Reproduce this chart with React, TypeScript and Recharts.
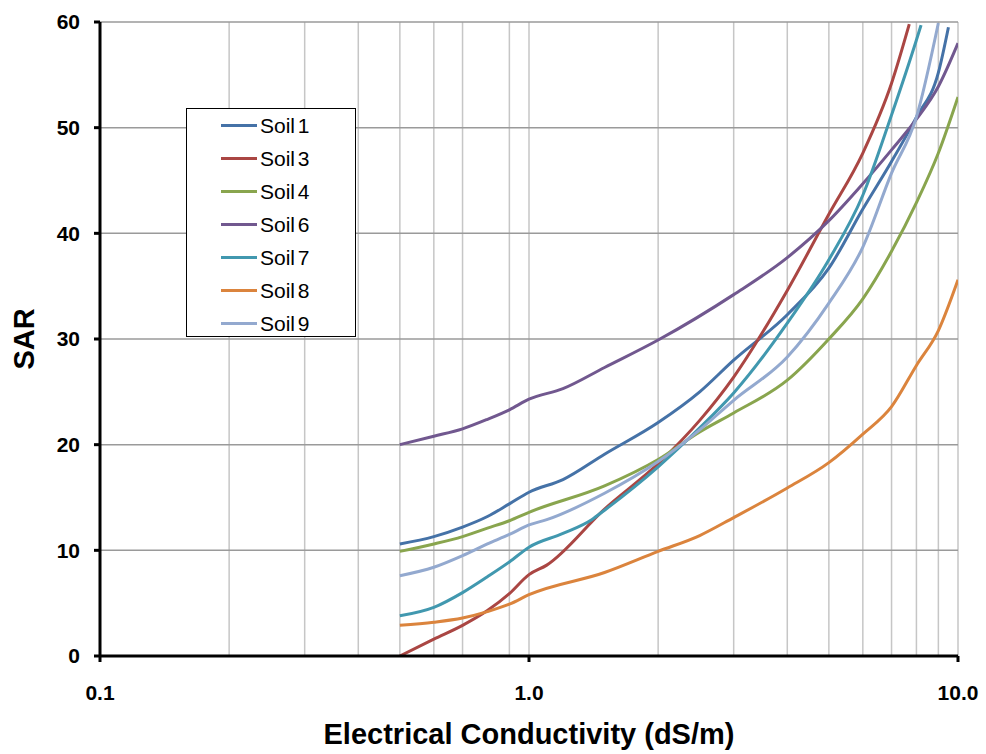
import React from 'react';
import { LineChart, Line, XAxis, YAxis, CartesianGrid, Legend } from 'recharts';

const FONT = "'Liberation Sans', Arial, Helvetica, sans-serif";

const xTicks = [0.1, 1, 10];
const xGridTicks = [0.1, 0.2, 0.3, 0.4, 0.5, 0.6, 0.7, 0.8, 0.9, 1, 2, 3, 4, 5, 6, 7, 8, 9, 10];
const yTicks = [0, 10, 20, 30, 40, 50, 60];

const ecSoil1 = [0.5, 0.6, 0.7, 0.8, 0.9, 1.0, 1.2, 1.5, 2, 2.5, 3, 4, 5, 6, 7, 8, 9, 9.5];
const sarSoil1 = [10.6, 11.3, 12.2, 13.2, 14.4, 15.5, 16.7, 19.1, 22.1, 25.0, 28.0, 32.3, 36.7, 42.3, 46.8, 51.0, 55.2, 59.5];

const ecSoil3 = [0.5, 0.6, 0.7, 0.8, 0.9, 1.0, 1.1, 1.5, 2, 2.5, 3, 4, 5, 6, 7, 7.7];
const sarSoil3 = [0, 1.6, 2.9, 4.3, 5.9, 7.7, 8.6, 13.9, 18.2, 22.3, 26.4, 34.6, 41.8, 47.6, 54.2, 59.8];

const ecSoil4 = [0.5, 0.6, 0.7, 0.8, 0.9, 1.0, 1.5, 2, 2.5, 3, 4, 5, 6, 7, 8, 9, 10];
const sarSoil4 = [9.9, 10.6, 11.3, 12.1, 12.8, 13.6, 16.1, 18.6, 21.2, 23.0, 26.1, 30.0, 33.8, 38.3, 42.9, 47.6, 52.9];

const ecSoil6 = [0.5, 0.6, 0.7, 0.8, 0.9, 1.0, 1.2, 1.5, 2, 3, 4, 5, 6, 7, 8, 9, 10];
const sarSoil6 = [20.0, 20.8, 21.5, 22.4, 23.3, 24.3, 25.3, 27.3, 29.9, 34.2, 37.7, 41.2, 44.7, 47.9, 50.8, 53.9, 58.0];

const ecSoil7 = [0.5, 0.6, 0.7, 0.8, 0.9, 1.0, 1.2, 1.4, 1.5, 2, 2.5, 3, 4, 5, 6, 7, 8, 8.2];
const sarSoil7 = [3.8, 4.6, 6.0, 7.5, 8.9, 10.3, 11.6, 12.9, 13.8, 17.9, 21.6, 24.9, 31.5, 37.5, 43.6, 51.2, 58.3, 59.7];

const ecSoil8 = [0.5, 0.6, 0.7, 0.8, 0.9, 1.0, 1.5, 2, 2.5, 3, 4, 5, 6, 7, 8, 9, 10];
const sarSoil8 = [2.9, 3.2, 3.6, 4.2, 4.9, 5.8, 7.9, 9.9, 11.4, 13.1, 15.9, 18.3, 21.0, 23.6, 27.5, 30.8, 35.6];

const ecSoil9 = [0.5, 0.6, 0.7, 0.8, 0.9, 1.0, 1.1, 1.5, 2, 2.5, 3, 4, 5, 6, 7, 8, 9];
const sarSoil9 = [7.6, 8.4, 9.5, 10.6, 11.5, 12.4, 12.9, 15.4, 18.4, 21.4, 24.2, 28.3, 33.4, 38.7, 45.7, 51.0, 59.9];

const zip = (ec: number[], sar: number[]) => ec.map((e, i) => ({ ec: e, sar: sar[i] }));

const series = [
  { name: 'Soil 1', color: '#4572A7', data: zip(ecSoil1, sarSoil1) },
  { name: 'Soil 3', color: '#AA4643', data: zip(ecSoil3, sarSoil3) },
  { name: 'Soil 4', color: '#89A54E', data: zip(ecSoil4, sarSoil4) },
  { name: 'Soil 6', color: '#71588F', data: zip(ecSoil6, sarSoil6) },
  { name: 'Soil 7', color: '#4198AF', data: zip(ecSoil7, sarSoil7) },
  { name: 'Soil 8', color: '#DB843D', data: zip(ecSoil8, sarSoil8) },
  { name: 'Soil 9', color: '#93A9CF', data: zip(ecSoil9, sarSoil9) },
];

function LegendBox(props: any) {
  const payload = props.payload || [];
  return (
    <div
      style={{
        border: '1.5px solid #000',
        background: '#fff',
        width: 170,
        height: 229,
        boxSizing: 'border-box',
        fontFamily: FONT,
      }}
    >
      {payload.map((p: any) => (
        <div key={p.value} style={{ display: 'flex', alignItems: 'center', height: 33, paddingLeft: 34 }}>
          <span style={{ display: 'inline-block', width: 36, height: 3, background: p.color }} />
          <span style={{ marginLeft: 3, fontSize: 21, wordSpacing: -3, color: '#000', lineHeight: '33px' }}>
            {p.value}
          </span>
        </div>
      ))}
    </div>
  );
}

const tickStyle = { fill: '#000', fontSize: 21, fontWeight: 'bold', fontFamily: FONT };

export default function App() {
  return (
    <div style={{ position: 'absolute', left: 0, top: 0, width: 986, height: 754, background: '#fff' }}>
      <LineChart width={986} height={754} margin={{ top: 22, right: 28, bottom: 38, left: 40 }}>
        <CartesianGrid xAxisId="grid" horizontal={false} stroke="#c6c6c6" strokeWidth={1.5} />
        <CartesianGrid vertical={false} stroke="#9a9a9a" strokeWidth={1.5} />
        <XAxis
          xAxisId="grid"
          type="number"
          dataKey="ec"
          scale="log"
          domain={[0.1, 10]}
          ticks={xGridTicks}
          allowDataOverflow
          hide
        />
        <XAxis
          type="number"
          dataKey="ec"
          scale="log"
          domain={[0.1, 10]}
          ticks={xTicks}
          allowDataOverflow
          height={60}
          tickFormatter={(v: number) => v.toFixed(1)}
          tick={tickStyle}
          tickSize={6}
          tickMargin={23}
          axisLine={{ stroke: '#000', strokeWidth: 3 }}
          tickLine={{ stroke: '#000', strokeWidth: 3 }}
          label={{
            content: (p: any) => {
              const vb = p.viewBox || {};
              return (
                <text
                  x={vb.x + vb.width / 2}
                  y={vb.y + vb.height + 28}
                  textAnchor="middle"
                  fontFamily={FONT}
                  fontWeight="bold"
                  fontSize={29}
                  fill="#000"
                >
                  Electrical Conductivity (dS/m)
                </text>
              );
            },
          }}
        />
        <YAxis
          type="number"
          domain={[0, 60]}
          ticks={yTicks}
          allowDataOverflow
          width={60}
          tick={tickStyle}
          tickSize={6}
          tickMargin={14}
          axisLine={{ stroke: '#000', strokeWidth: 3 }}
          tickLine={{ stroke: '#000', strokeWidth: 3 }}
          label={{
            content: (p: any) => {
              const vb = p.viewBox || {};
              const cx = vb.x - 16;
              const cy = vb.y + vb.height / 2;
              return (
                <text
                  x={cx}
                  y={cy}
                  transform={`rotate(-90, ${cx}, ${cy})`}
                  textAnchor="middle"
                  dominantBaseline="central"
                  fontFamily={FONT}
                  fontWeight="bold"
                  fontSize={29}
                  fill="#000"
                >
                  SAR
                </text>
              );
            },
          }}
        />
        <Legend
          layout="vertical"
          align="center"
          verticalAlign="middle"
          content={<LegendBox />}
          wrapperStyle={{ left: 186, top: 108, width: 170, height: 229 }}
        />
        {series.map((s) => (
          <Line
            key={s.name}
            name={s.name}
            data={s.data}
            dataKey="sar"
            type="monotoneX"
            stroke={s.color}
            strokeWidth={3}
            dot={false}
            activeDot={false}
            isAnimationActive={false}
          />
        ))}
      </LineChart>
    </div>
  );
}
